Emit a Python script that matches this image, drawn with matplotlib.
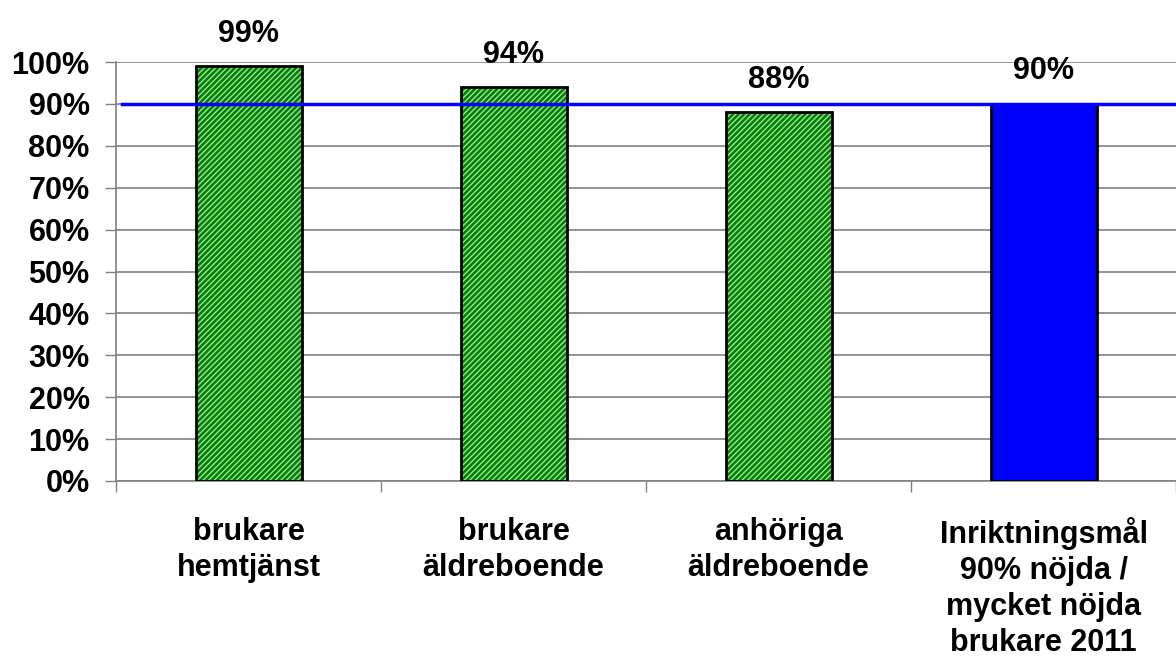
import matplotlib
matplotlib.use("Agg")
import matplotlib.pyplot as plt
from matplotlib.ticker import FixedLocator

plt.rcParams['font.family'] = ['Liberation Sans', 'DejaVu Sans']
plt.rcParams['font.weight'] = 'bold'
plt.rcParams['hatch.linewidth'] = 1.0

categories = ["brukare\nhemtjänst", "brukare\näldreboende", "anhöriga\näldreboende",
              "Inriktningsmål\n90% nöjda /\nmycket nöjda\nbrukare 2011"]
values = [0.99, 0.94, 0.88, 0.90]
value_labels = ["99%", "94%", "88%", "90%"]
target = 0.90
yticks = [0.0, 0.1, 0.2, 0.3, 0.4, 0.5, 0.6, 0.7, 0.8, 0.9, 1.0]
ytick_labels = ["0%", "10%", "20%", "30%", "40%", "50%", "60%", "70%", "80%", "90%", "100%"]

W, H = 1176, 661
fig = plt.figure(figsize=(W/100, H/100), dpi=100)
ax = fig.add_axes([116/W, 1-481/H, (1176-116)/W, (481-62)/H])

x = list(range(len(categories)))
fs = 22

for i, v in enumerate(values):
    if i < 3:
        ax.bar(i, v, width=0.4, color='#008000', edgecolor='#9ee09e', hatch='//////', linewidth=0, zorder=3)
        ax.bar(i, v, width=0.4, fill=False, edgecolor='black', linewidth=2, zorder=4)
    else:
        ax.bar(i, v, width=0.4, color='#0000ff', edgecolor='black', linewidth=2, zorder=3)
    ax.annotate(value_labels[i], (i, v), xytext=(0, 26), textcoords='offset points',
                ha='center', va='center_baseline', fontsize=fs, fontweight='bold', annotation_clip=False)

ax.axhline(target, xmin=0.006, xmax=1, color='#0000ff', linewidth=2.5, zorder=5)

ax.set_xlim(-0.5, 3.5)
ax.set_ylim(0, 1.0)
ax.set_yticks(yticks)
ax.set_yticklabels(ytick_labels, fontsize=fs, fontweight='bold')
ax.yaxis.grid(True, color='#808080', linewidth=1.2, zorder=0)
ax.set_axisbelow(True)

ax.set_xticks(x)
ax.set_xticklabels(categories, fontsize=fs, fontweight='bold', linespacing=1.26)
ax.tick_params(axis='x', length=0, pad=26)
ax.xaxis.set_minor_locator(FixedLocator([-0.5, 0.5, 1.5, 2.5, 3.5]))
ax.tick_params(axis='x', which='minor', length=8, width=1, color='#808080', direction='out')
ax.tick_params(axis='y', length=8, width=1, color='#808080', direction='out', pad=11)

for s in ['top', 'right']:
    ax.spines[s].set_visible(False)
ax.spines['left'].set_color('#808080')
ax.spines['bottom'].set_color('#808080')
ax.spines['left'].set_linewidth(1.2)
ax.spines['bottom'].set_linewidth(1.2)

fig.savefig("out.png", dpi=100)
